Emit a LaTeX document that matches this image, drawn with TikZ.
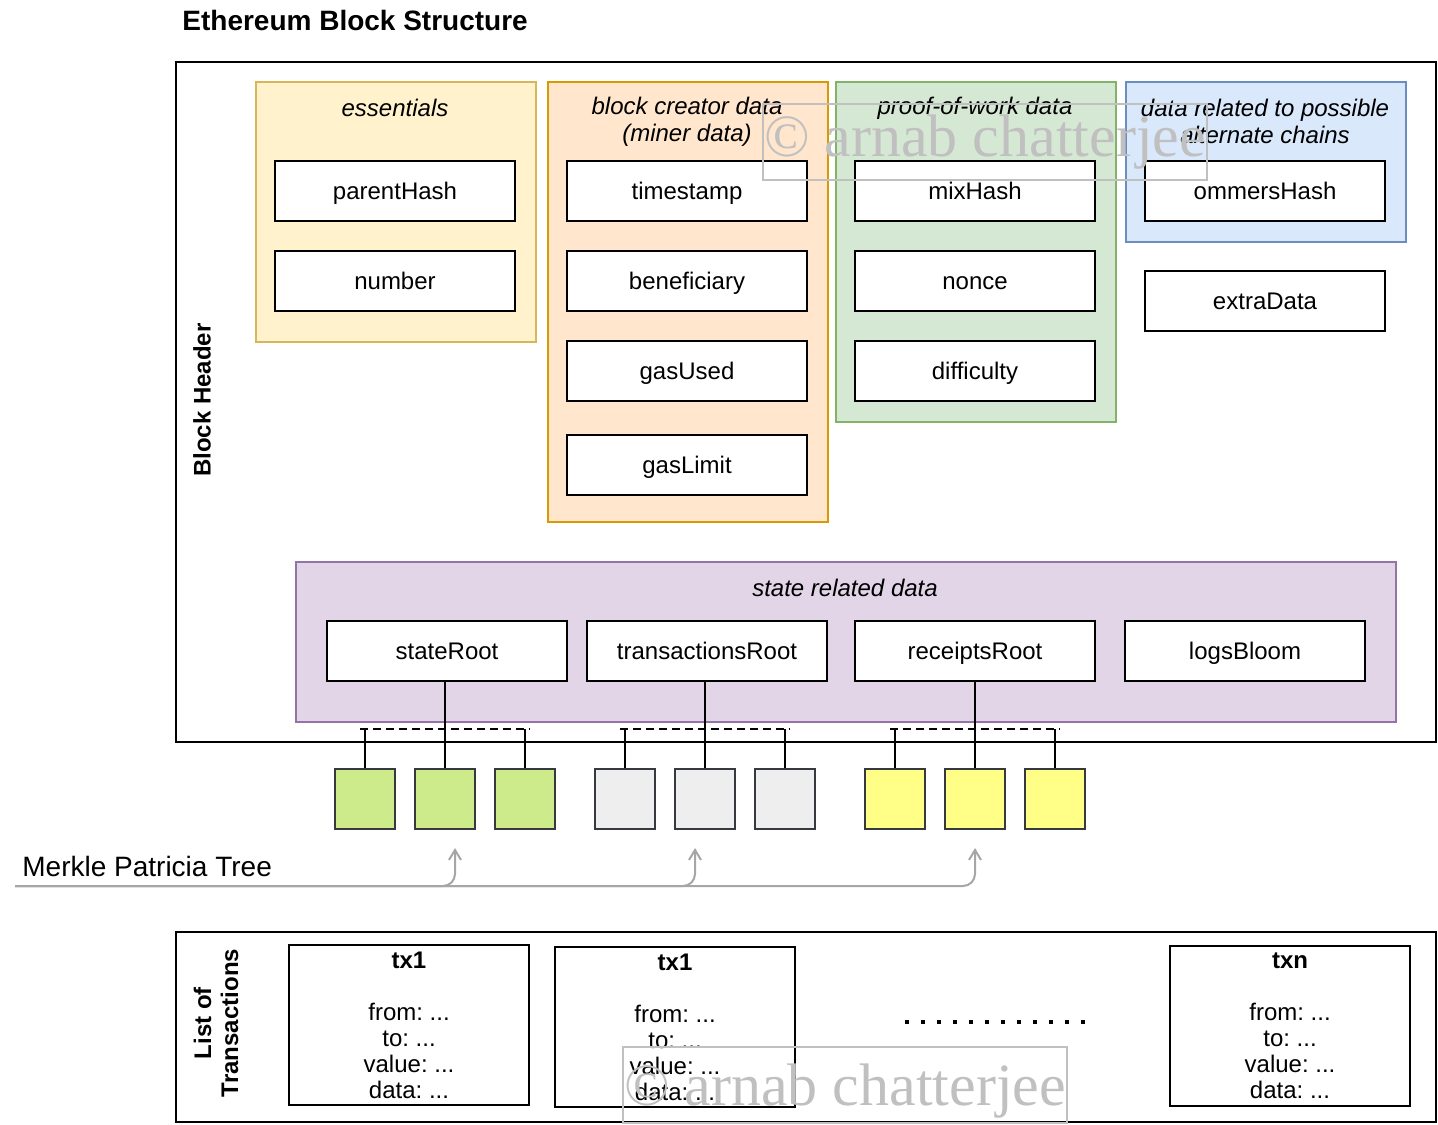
\documentclass[tikz,border=0pt]{standalone}
\usepackage{fontspec}
\setmainfont{Liberation Sans}
\newfontfamily\wmfont{Liberation Serif}
\usetikzlibrary{arrows.meta}
\frenchspacing
\definecolor{essfill}{HTML}{FFF2CC}
\definecolor{essline}{HTML}{D6B656}
\definecolor{minerfill}{HTML}{FFE6CC}
\definecolor{minerline}{HTML}{D79B00}
\definecolor{powfill}{HTML}{D5E8D4}
\definecolor{powline}{HTML}{82B366}
\definecolor{altfill}{HTML}{DAE8FC}
\definecolor{altline}{HTML}{6C8EBF}
\definecolor{statefill}{HTML}{E1D5E7}
\definecolor{stateline}{HTML}{9673A6}
\definecolor{leafgreen}{HTML}{CDEB8B}
\definecolor{leafgray}{HTML}{EEEEEE}
\definecolor{leafyellow}{HTML}{FFFF88}
\definecolor{leafline}{HTML}{36393D}
\definecolor{wmgray}{HTML}{C0C0C0}
\definecolor{mptgray}{HTML}{A6A6A6}
\tikzset{
  field/.style={draw, line width=1pt, fill=white, minimum width=120pt, minimum height=30pt, inner sep=0pt, text height=8.75pt, text depth=0pt},
  group/.style={draw, line width=1pt, anchor=north west, inner sep=0pt},
  grouptitle/.style={font=\fontsize{12}{13.5}\selectfont\itshape, align=center},
  leaf/.style={draw=leafline, line width=1pt, minimum size=30pt, inner sep=0pt},
  bar/.style={line width=1pt, dash pattern=on 4pt off 2.5pt},
  link/.style={line width=1pt},
  mpt/.style={draw=mptgray, line width=1pt, rounded corners=6pt, -{Straight Barb[length=5pt,width=6pt]}},
  txbox/.style={draw, line width=1pt, minimum width=120pt, minimum height=80pt, align=center, inner sep=0pt},
  wmbox/.style={draw=wmgray, line width=1pt, text=wmgray, minimum width=222pt, minimum height=38pt, inner sep=0pt, font=\wmfont\fontsize{30}{30}\selectfont}
}
\begin{document}
\begin{tikzpicture}[x=0.5pt, y=-0.5pt, font=\fontsize{12}{13}\selectfont]
\useasboundingbox (0,0) rectangle (1438,1124);
\node[anchor=base west, inner sep=0pt, font=\fontsize{14}{16}\selectfont\bfseries] (title) at (182,30) {Ethereum Block Structure};

\node[group, minimum width=630pt, minimum height=340pt] (header) at (175,61) {};
\node[rotate=90, font=\fontsize{12}{13}\selectfont\bfseries] (headerlabel) at (202,400) {Block Header};

\node[group, fill=essfill, draw=essline, minimum width=140pt, minimum height=130pt] (ess) at (255,81) {};
\node[grouptitle] (esstitle) at (395,108) {essentials};
\node[group, fill=minerfill, draw=minerline, minimum width=140pt, minimum height=220pt] (miner) at (547,81) {};
\node[grouptitle] (minertitle) at (687,121.5) {block creator data\\(miner data)};
\node[group, fill=powfill, draw=powline, minimum width=140pt, minimum height=170pt] (pow) at (835,81) {};
\node[grouptitle] (powtitle) at (975,108) {proof-of-work data};
\node[group, fill=altfill, draw=altline, minimum width=140pt, minimum height=80pt] (alt) at (1125,81) {};
\node[grouptitle] (alttitle) at (1265,121.5) {data related to possible\\alternate chains};
\node[group, fill=statefill, draw=stateline, minimum width=550pt, minimum height=80pt] (state) at (295,561) {};
\node[grouptitle] (statetitle) at (845,588) {state related data};

\node[field] (parenthash) at (395,191) {parentHash};
\node[field] (number) at (395,281) {number};
\node[field] (timestamp) at (687,191) {timestamp};
\node[field] (beneficiary) at (687,281) {beneficiary};
\node[field] (gasused) at (687,371) {gasUsed};
\node[field] (gaslimit) at (687,465) {gasLimit};
\node[field] (mixhash) at (975,191) {mixHash};
\node[field] (nonce) at (975,281) {nonce};
\node[field] (difficulty) at (975,371) {difficulty};
\node[field] (ommershash) at (1265,191) {ommersHash};
\node[field] (extradata) at (1265,301) {extraData};
\node[field] (stateroot) at (447,651) {stateRoot};
\node[field] (txroot) at (707,651) {transactionsRoot};
\node[field] (receiptsroot) at (975,651) {receiptsRoot};
\node[field] (logsbloom) at (1245,651) {logsBloom};

\node[leaf, fill=leafgreen] (g1) at (365,799) {};
\node[leaf, fill=leafgreen] (g2) at (445,799) {};
\node[leaf, fill=leafgreen] (g3) at (525,799) {};
\node[leaf, fill=leafgray] (w1) at (625,799) {};
\node[leaf, fill=leafgray] (w2) at (705,799) {};
\node[leaf, fill=leafgray] (w3) at (785,799) {};
\node[leaf, fill=leafyellow] (y1) at (895,799) {};
\node[leaf, fill=leafyellow] (y2) at (975,799) {};
\node[leaf, fill=leafyellow] (y3) at (1055,799) {};

\coordinate (gbar) at (445,729);
\coordinate (wbar) at (705,729);
\coordinate (ybar) at (975,729);
\draw[bar] ([xshift=-2.5pt]g1.north |- gbar) -- ([xshift=2.5pt]g3.north |- gbar);
\draw[bar] ([xshift=-2.5pt]w1.north |- wbar) -- ([xshift=2.5pt]w3.north |- wbar);
\draw[bar] ([xshift=-2.5pt]y1.north |- ybar) -- ([xshift=2.5pt]y3.north |- ybar);
\draw[link] (g2.north) -- (g2.north |- stateroot.south);
\draw[link] (g1.north) -- (g1.north |- gbar);
\draw[link] (g3.north) -- (g3.north |- gbar);
\draw[link] (w2.north) -- (w2.north |- txroot.south);
\draw[link] (w1.north) -- (w1.north |- wbar);
\draw[link] (w3.north) -- (w3.north |- wbar);
\draw[link] (y2.north) -- (y2.north |- receiptsroot.south);
\draw[link] (y1.north) -- (y1.north |- ybar);
\draw[link] (y3.north) -- (y3.north |- ybar);

\node[anchor=base west, inner sep=0pt, font=\fontsize{14}{16}\selectfont] (mptlabel) at (22,876) {Merkle Patricia Tree};
\coordinate (mpt) at (15,886);
\coordinate (a1) at (455,848);
\coordinate (a2) at (695,848);
\coordinate (a3) at (975,848);
\draw[mpt] (mpt) -| (a1);
\draw[mpt] (mpt) -| (a2);
\draw[mpt] (mpt) -| (a3);

\node[group, minimum width=630pt, minimum height=95pt] (txlist) at (175,931) {};
\node[rotate=90, align=center, font=\fontsize{12}{13.5}\selectfont\bfseries] (txlabel) at (216,1023) {List of\\Transactions};
\node[txbox] (tx1) at (409,1025) {\textbf{tx1}\\[13pt]from: ...\\to: ...\\value: ...\\data: ...};
\node[txbox] (tx2) at (675,1027) {\textbf{tx1}\\[13pt]from: ...\\to: ...\\value: ...\\data: ...};
\node[txbox] (txn) at (1290,1026) {\textbf{txn}\\[13pt]from: ...\\to: ...\\value: ...\\data: ...};
\coordinate (dotsa) at (905,1022);
\coordinate (dotsb) at (1085,1022);
\draw[line width=2pt, dash pattern=on 2pt off 6pt] (dotsa) -- (dotsb);

\node[wmbox] (wm1) at (985,142) {© arnab chatterjee};
\node[wmbox, text height=20.5pt, text depth=0pt] (wm2) at (845,1085) {© arnab chatterjee};
\end{tikzpicture}
\end{document}
